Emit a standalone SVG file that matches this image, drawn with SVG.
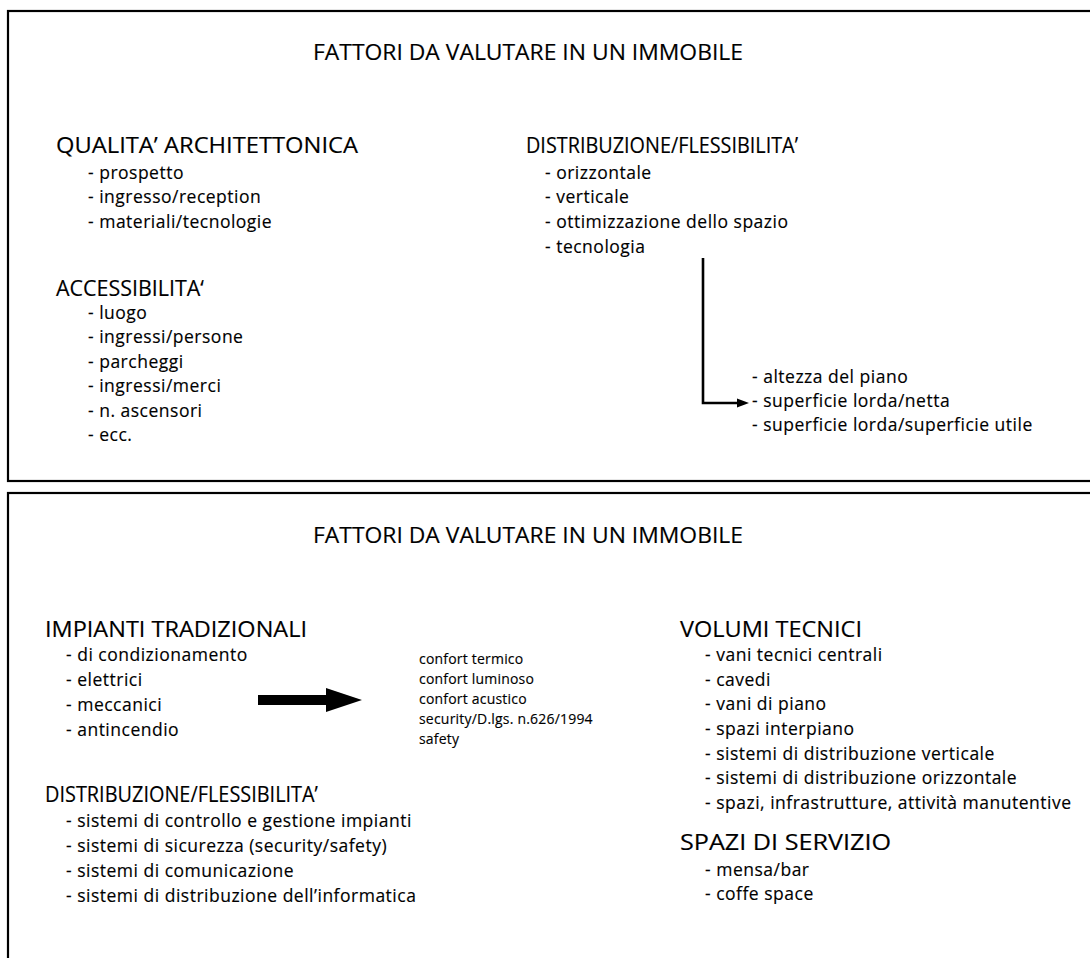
<svg xmlns="http://www.w3.org/2000/svg" width="1090" height="958" viewBox="0 0 1090 958">
  <style>
    text { font-family: "Open Sans", Lato, "Liberation Sans", sans-serif; fill: #000; stroke: #000; stroke-width: 0.15; }
    .title { font-size: 22px; }
    .head { font-size: 21.5px; }
    .item { font-size: 17.5px; letter-spacing: 0.5px; }
    .small { font-size: 14px; letter-spacing: 0.2px; }
    .frame { fill: #fff; stroke: #000; stroke-width: 2.2; }
    .conn { fill: none; stroke: #000; stroke-width: 2.6; }
  </style>

  <rect width="1090" height="958" fill="#fff"/>

  <!-- panel 1 -->
  <g id="panel-top">
    <rect class="frame" x="8" y="11" width="1100" height="470"/>
    <text class="title" x="313" y="60" textLength="430" lengthAdjust="spacingAndGlyphs">FATTORI DA VALUTARE IN UN IMMOBILE</text>
  </g>

  <g id="qualita-architettonica">
    <text class="head" x="56" y="153" textLength="302" lengthAdjust="spacingAndGlyphs">QUALITA’ ARCHITETTONICA</text>
    <text class="item" x="88" y="179">- prospetto</text>
    <text class="item" x="88" y="203">- ingresso/reception</text>
    <text class="item" x="88" y="228">- materiali/tecnologie</text>
  </g>

  <g id="accessibilita">
    <text class="head" x="56" y="296" textLength="148" lengthAdjust="spacingAndGlyphs">ACCESSIBILITA‘</text>
    <text class="item" x="88" y="319">- luogo</text>
    <text class="item" x="88" y="343">- ingressi/persone</text>
    <text class="item" x="88" y="368">- parcheggi</text>
    <text class="item" x="88" y="392">- ingressi/merci</text>
    <text class="item" x="88" y="417">- n. ascensori</text>
    <text class="item" x="88" y="441">- ecc.</text>
  </g>

  <g id="distribuzione-flessibilita-1">
    <text class="head" x="526" y="153" textLength="272" lengthAdjust="spacingAndGlyphs">DISTRIBUZIONE/FLESSIBILITA’</text>
    <text class="item" x="545" y="179">- orizzontale</text>
    <text class="item" x="545" y="203">- verticale</text>
    <text class="item" x="545" y="228">- ottimizzazione dello spazio</text>
    <text class="item" x="545" y="253">- tecnologia</text>
  </g>

  <g id="superfici">
    <text class="item" x="752" y="383">- altezza del piano</text>
    <text class="item" x="752" y="407">- superficie lorda/netta</text>
    <text class="item" x="752" y="431">- superficie lorda/superficie utile</text>
  </g>

  <!-- panel 2 -->
  <g id="panel-bottom">
    <rect class="frame" x="8" y="493" width="1100" height="500"/>
    <text class="title" x="313" y="543" textLength="430" lengthAdjust="spacingAndGlyphs">FATTORI DA VALUTARE IN UN IMMOBILE</text>
  </g>

  <g id="impianti-tradizionali">
    <text class="head" x="45" y="637" textLength="262" lengthAdjust="spacingAndGlyphs">IMPIANTI TRADIZIONALI</text>
    <text class="item" x="66" y="661">- di condizionamento</text>
    <text class="item" x="66" y="686">- elettrici</text>
    <text class="item" x="66" y="711">- meccanici</text>
    <text class="item" x="66" y="736">- antincendio</text>
  </g>

  <g id="comfort">
    <text class="small" x="419" y="664">confort termico</text>
    <text class="small" x="419" y="684">confort luminoso</text>
    <text class="small" x="419" y="704">confort acustico</text>
    <text class="small" x="419" y="724">security/D.lgs. n.626/1994</text>
    <text class="small" x="419" y="744">safety</text>
  </g>

  <g id="distribuzione-flessibilita-2">
    <text class="head" x="45" y="802" textLength="273" lengthAdjust="spacingAndGlyphs">DISTRIBUZIONE/FLESSIBILITA’</text>
    <text class="item" x="66" y="827">- sistemi di controllo e gestione impianti</text>
    <text class="item" x="66" y="852">- sistemi di sicurezza (security/safety)</text>
    <text class="item" x="66" y="877">- sistemi di comunicazione</text>
    <text class="item" x="66" y="902">- sistemi di distribuzione dell’informatica</text>
  </g>

  <g id="volumi-tecnici">
    <text class="head" x="680" y="637" textLength="182" lengthAdjust="spacingAndGlyphs">VOLUMI TECNICI</text>
    <text class="item" x="705" y="661">- vani tecnici centrali</text>
    <text class="item" x="705" y="686">- cavedi</text>
    <text class="item" x="705" y="710">- vani di piano</text>
    <text class="item" x="705" y="735">- spazi interpiano</text>
    <text class="item" x="705" y="760">- sistemi di distribuzione verticale</text>
    <text class="item" x="705" y="784">- sistemi di distribuzione orizzontale</text>
    <text class="item" x="705" y="809">- spazi, infrastrutture, attività manutentive</text>
  </g>

  <g id="spazi-di-servizio">
    <text class="head" x="680" y="850" textLength="211" lengthAdjust="spacingAndGlyphs">SPAZI DI SERVIZIO</text>
    <text class="item" x="705" y="876">- mensa/bar</text>
    <text class="item" x="705" y="900">- coffe space</text>
  </g>

  <!-- connectors -->
  <g id="connectors">
    <path class="conn" d="M703,258 V403 H740"/>
    <path d="M737,398.5 L749,403 L737,407.5 Z" fill="#000"/>
    <path d="M258,695 H326 V688 L362,700 L326,712 V705 H258 Z" fill="#000"/>
  </g>
</svg>
